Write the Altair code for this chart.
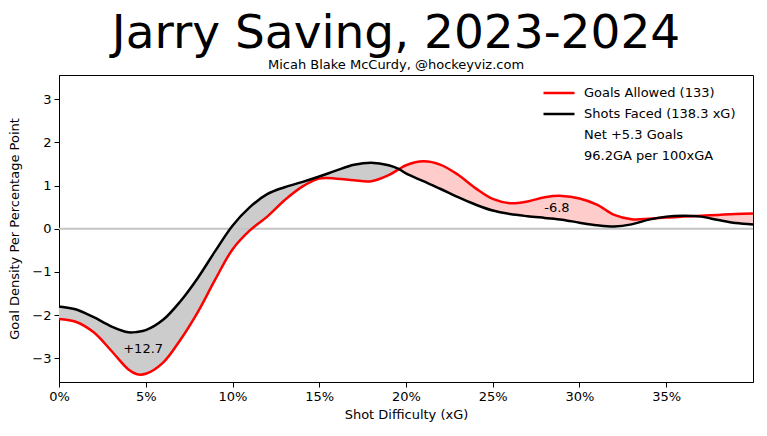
import altair as alt
import pandas as pd

# Shot difficulty (xG), in percent
xg_pct = [0, 1, 2, 3, 4, 4.5, 5, 6, 7, 8, 9, 10, 11, 12, 13, 14, 15, 16, 17, 18, 19, 19.6,
          20, 21, 22, 23, 24, 25, 26, 27, 28, 29, 30, 31, 32, 33, 34, 35, 36, 37, 38, 39, 40]
# Shots faced density (black)
shots = [-1.80, -1.87, -2.05, -2.26, -2.40, -2.39, -2.35, -2.11, -1.68, -1.14, -0.52, 0.07,
         0.50, 0.80, 0.96, 1.08, 1.21, 1.35, 1.48, 1.53, 1.47, 1.38,
         1.28, 1.10, 0.92, 0.73, 0.56, 0.42, 0.34, 0.29, 0.25, 0.21, 0.14, 0.08, 0.05, 0.10,
         0.21, 0.28, 0.30, 0.28, 0.20, 0.13, 0.10]
# Goals allowed density (red)
goals = [-2.09, -2.16, -2.40, -2.82, -3.26, -3.37, -3.36, -3.10, -2.57, -1.93, -1.18, -0.48,
         -0.04, 0.28, 0.66, 0.97, 1.16, 1.16, 1.12, 1.10, 1.24, 1.38,
         1.47, 1.56, 1.48, 1.25, 0.94, 0.69, 0.59, 0.63, 0.73, 0.76, 0.70, 0.56, 0.32, 0.22,
         0.23, 0.26, 0.28, 0.30, 0.32, 0.34, 0.35]

legend_labels = ["Goals Allowed (133)", "Shots Faced (138.3 xG)", "Net +5.3 Goals", "96.2GA per 100xGA"]
legend_colors = ["#ff0000", "#000000", "transparent", "transparent"]

annot_text = ["+12.7", "-6.8"]
annot_x = [0.0485, 0.287]
annot_y = [-2.78, 0.49]

x_ticks = [0, 0.05, 0.10, 0.15, 0.20, 0.25, 0.30, 0.35]
y_ticks = [-3, -2, -1, 0, 1, 2, 3]

FONT = "DejaVu Sans"
INTERP = "catmull-rom"

wide = pd.DataFrame({"xg": [v / 100 for v in xg_pct], "shots": shots, "goals": goals})
annots = pd.DataFrame({"x": annot_x, "y": annot_y, "text": annot_text})

YT = "Goal Density Per Percentage Point"
XT = "Shot Difficulty (xG)"
xscale = alt.Scale(domain=[0, 0.4], nice=False, zero=False)
yscale = alt.Scale(domain=[-3.55, 3.56], nice=False, zero=False)
xaxis = alt.Axis(values=x_ticks, format=".0%", title=XT, labelFlush=False)
yaxis = alt.Axis(values=y_ticks, format="d", title=YT, labelFlush=False)


def X(field):
    return alt.X(field, scale=xscale, axis=xaxis, title=XT)


def Y(field):
    return alt.Y(field, scale=yscale, axis=yaxis, title=YT)


color_scale = alt.Scale(domain=legend_labels, range=legend_colors)
legend = alt.Legend(
    title=None, orient="none", legendX=491, legendY=9,
    symbolType="M-2,0H2", symbolSize=240, symbolStrokeWidth=2.5,
    labelFont=FONT, labelFontSize=13, labelColor="black",
    labelOffset=16, rowPadding=5, padding=0,
)
COLOR = alt.Color("series:N", scale=color_scale, legend=legend)

lo_expr = "min(datum.shots, datum.goals)"
grey = alt.Chart(wide).transform_calculate(lo=lo_expr).mark_area(
    color="#cccccc", interpolate=INTERP
).encode(x=X("xg:Q"), y=Y("shots:Q"), y2="lo:Q")
pink = alt.Chart(wide).transform_calculate(lo=lo_expr).mark_area(
    color="#ffcccc", interpolate=INTERP
).encode(x=X("xg:Q"), y=Y("goals:Q"), y2="lo:Q")
zero = alt.Chart(pd.DataFrame({"z": [0]})).mark_rule(color="#c4c4c4", strokeWidth=2).encode(
    y=Y("z:Q")
)
red = alt.Chart(wide).transform_calculate(series=f"'{legend_labels[0]}'").mark_line(
    interpolate=INTERP, strokeWidth=2.5
).encode(x=X("xg:Q"), y=Y("goals:Q"), color=COLOR)
black = alt.Chart(wide).transform_calculate(series=f"'{legend_labels[1]}'").mark_line(
    interpolate=INTERP, strokeWidth=2.5
).encode(x=X("xg:Q"), y=Y("shots:Q"), color=COLOR)
text = alt.Chart(annots).mark_text(font=FONT, fontSize=13, color="black").encode(
    x=X("x:Q"), y=Y("y:Q"), text="text:N",
)

chart = alt.layer(grey, pink, zero, red, black, text).properties(
    width=694, height=307,
    padding={"left": 0, "top": 2, "right": 0, "bottom": 5},
    title=alt.TitleParams(
        "Jarry Saving, 2023-2024",
        subtitle="Micah Blake McCurdy, @hockeyviz.com",
        font=FONT, fontSize=47, fontWeight="normal", color="black",
        subtitleFont=FONT, subtitleFontSize=13, subtitleColor="black",
        subtitlePadding=1, offset=2, anchor="middle", dx=-10,
    ),
).configure_view(stroke="black", strokeWidth=1).configure_axis(
    domainColor="black", tickColor="black", labelColor="black", titleColor="black",
    labelFont=FONT, titleFont=FONT, labelFontSize=13, titleFontSize=13,
    titleFontWeight="normal", grid=False, tickSize=5, labelPadding=3,
).configure_axisX(titlePadding=5).configure_axisY(titlePadding=10)

chart.save("out.html", embed_options={"renderer": "svg", "actions": False})
